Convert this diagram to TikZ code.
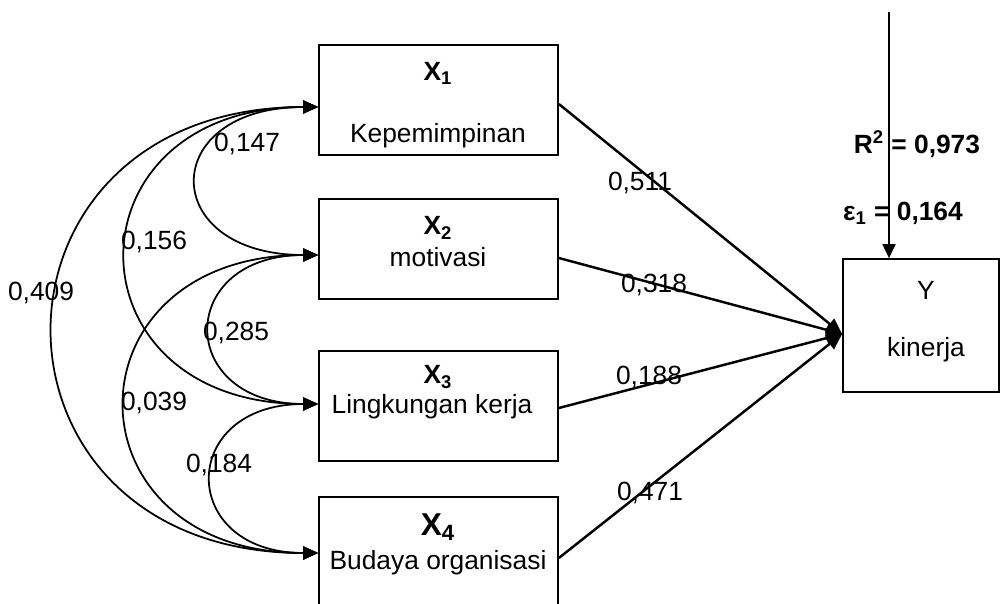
\documentclass[tikz,border=0pt]{standalone}
\usepackage{fontspec}
\setmainfont{Liberation Sans}
\usetikzlibrary{arrows.meta}

\begin{document}
\begin{tikzpicture}[x=0.02cm, y=-0.02cm,
        font=\fontsize{15}{18}\selectfont,
        varbox/.style={draw, line width=1pt, minimum width=4.78cm, inner sep=0pt},
        corr/.style={line width=1pt, {Triangle[length=0.3cm,width=0.26cm]}-{Triangle[length=0.3cm,width=0.26cm]}},
        effect/.style={line width=1.4pt, -{Triangle[length=0.32cm,width=0.27cm]}},
        num/.style={inner sep=0pt}]
        \clip (0,0) rectangle (1001,603);
        \node[varbox, minimum height=2.2cm] (x1) at (438.5,100) {};
        \node[varbox, minimum height=2.0cm] (x2) at (438.5,249) {};
        \node[varbox, minimum height=2.2cm] (x3) at (438.5,406) {};
        \node[varbox, minimum height=2.2cm] (x4) at (438.5,552) {};
        \node[draw, line width=1pt, minimum width=3.12cm, minimum height=2.66cm, inner sep=0pt] (y) at (921,325.5) {};
        \node[num] (x1a) at (438,73) {\textbf{X\textsubscript{1}}};
        \node[num] (x1b) at (438,136) {Kepemimpinan};
        \node[num] (x2a) at (438,228) {\textbf{X\textsubscript{2}}};
        \node[num] (x2b) at (438,257) {motivasi};
        \node[num] (x3a) at (438,377) {\textbf{X\textsubscript{3}}};
        \node[num] (x3b) at (432,407) {Lingkungan kerja};
        \node[num, font=\fontsize{18}{22}\selectfont] (x4a) at (438,527) {\textbf{X\textsubscript{4}}};
        \node[num] (x4b) at (438,563) {Budaya organisasi};
        \node[num] (ya) at (926,290) {Y};
        \node[num] (yb) at (926,350) {kinerja};
        \coordinate (a1) at ([yshift=-0.14cm]x1.west);
        \coordinate (a2) at ([yshift=-0.12cm]x2.west);
        \coordinate (a3) at ([yshift=0.04cm]x3.west);
        \coordinate (a4) at ([yshift=-0.02cm]x4.west);
        \draw[corr] (a1) .. controls +(-161,0) and +(-161,0) .. (a2);
        \draw[corr] (a1) .. controls +(-255,0) and +(-255,0) .. (a3);
        \draw[corr] (a1) .. controls +(-352,0) and +(-352,0) .. (a4);
        \draw[corr] (a2) .. controls +(-143,0) and +(-143,0) .. (a3);
        \draw[corr] (a2) .. controls +(-256,0) and +(-256,0) .. (a4);
        \draw[corr] (a3) .. controls +(-141,0) and +(-141,0) .. (a4);
        \node[num] (c12) at (247,144) {0,147};
        \node[num] (c13) at (154,242) {0,156};
        \node[num] (c14) at (41,293) {0,409};
        \node[num] (c23) at (236,333) {0,285};
        \node[num] (c24) at (154,403) {0,039};
        \node[num] (c34) at (219,465) {0,184};
        \coordinate (yin) at ([yshift=-0.17cm]y.west);
        \draw[effect] ([yshift=-0.08cm]x1.east) -- (yin);
        \draw[effect] ([yshift=-0.18cm]x2.east) -- (yin);
        \draw[effect] ([yshift=-0.04cm]x3.east) -- (yin);
        \draw[effect] ([yshift=-0.12cm]x4.east) -- (yin);
        \node[num] (p1) at (640,183) {0,511};
        \node[num] (p2) at (654,285) {0,318};
        \node[num] (p3) at (649,377) {0,188};
        \node[num] (p4) at (650,493) {0,471};
        \coordinate (etop) at (889,12);
        \draw[line width=1.1pt, -{Triangle[length=0.28cm,width=0.26cm]}] (etop) -- (etop |- y.north);
        \node[num] (rsq) at (917,144) {\textbf{R\textsuperscript{2} = 0,973}};
        \node[num] (eps) at (903,213) {\textbf{ε\textsubscript{1} = 0,164}};
\end{tikzpicture}
\end{document}
